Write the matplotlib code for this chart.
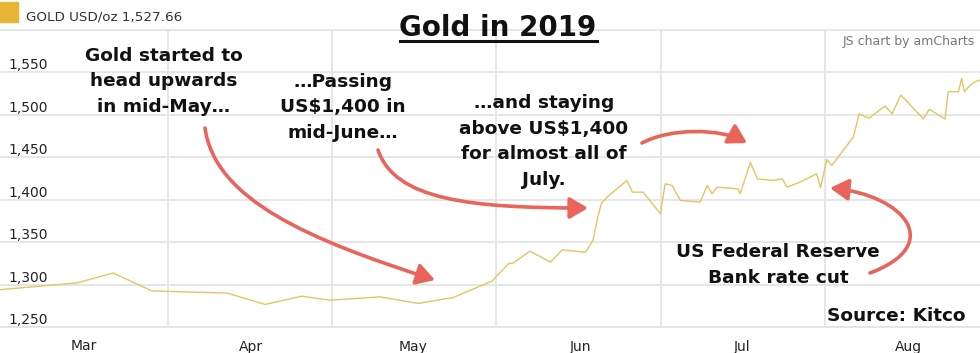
import matplotlib
matplotlib.use('Agg')
import matplotlib.pyplot as plt
import matplotlib.transforms as mtransforms
from matplotlib.patches import FancyArrowPatch, Rectangle
from matplotlib.path import Path
from matplotlib.lines import Line2D

# gold price, x = day of year 2019 (Jan 1 = 0)
days = [43.4, 57.7, 64.4, 71.6, 85.5, 92.6, 99.4, 104.6, 113.9, 121.0,
        127.5, 134.7, 137.7, 138.6, 141.7, 145.5, 147.7, 152.0, 153.4, 154.3,
        155.0, 156.0, 159.7, 160.7, 162.7, 165.9, 166.8, 168.1, 169.6, 173.3,
        174.6, 175.5, 176.4, 180.3, 180.7, 182.6, 183.9, 186.8, 188.5, 189.4,
        191.8, 194.9, 195.6, 196.8, 197.7, 201.7, 202.8, 204.6, 207.6, 208.9,
        210.5, 214.7, 215.8, 218.7, 219.3, 221.2, 221.8, 222.3, 223.4, 224.3,
        225.2]
price = [1294, 1302, 1313.6, 1292.5, 1290, 1276.6, 1286.3, 1281.6, 1285.5, 1277.8,
         1284.8, 1304.2, 1324.6, 1325.3, 1339.4, 1326.5, 1341, 1338, 1352, 1380,
         1396, 1403, 1422.7, 1408.9, 1408.9, 1383.6, 1418.8, 1416.8, 1399.2, 1397.2,
         1416.8, 1407, 1414.8, 1412.9, 1407, 1444.1, 1424.6, 1422.7, 1424.6, 1414.8,
         1420.7, 1430.5, 1414.2, 1447.3, 1440.3, 1473.9, 1501.2, 1496.1, 1510.5, 1501.2,
         1523.4, 1495.3, 1506.7, 1495, 1527.3, 1527.3, 1543, 1527.3, 1535, 1539,
         1541]

month_days = [59, 90, 120, 151, 181, 212]
month_labels = ['Mar', 'Apr', 'May', 'Jun', 'Jul', 'Aug']
y_ticks = [1250, 1300, 1350, 1400, 1450, 1500, 1550]
y_tick_labels = ['1,250', '1,300', '1,350', '1,400', '1,450', '1,500', '1,550']

W, H = 980, 353
grid_col = '#e4e4e4'
line_col = '#e3c562'
arrow_col = '#e9655b'

fig = plt.figure(figsize=(W / 100, H / 100), dpi=100)
ax = fig.add_axes([0, 26 / H, 1, 297 / H])
ax.plot(days, price, color=line_col, lw=1.0, zorder=3)
ax.set_xlim(43.4, 225.2)
ax.set_ylim(1250, 1600)

# grid: horizontal at the y ticks, vertical half way between month labels
ax.set_yticks(y_ticks)
ax.set_yticklabels(y_tick_labels)
ax.set_xticks(month_days)
ax.set_xticklabels(month_labels)
mids = [(a + b) / 2 for a, b in zip(month_days[:-1], month_days[1:])]
ax.set_xticks(mids, minor=True)
ax.grid(axis='y', which='major', color=grid_col, lw=1.3)
ax.grid(axis='x', which='minor', color=grid_col, lw=1.3)
ax.set_axisbelow(True)
for s in ['left', 'right']:
    ax.spines[s].set_visible(False)
for s in ['top', 'bottom']:
    ax.spines[s].set_color(grid_col)
    ax.spines[s].set_linewidth(1.3)
ax.tick_params(axis='both', which='both', length=0, labelsize=10, colors='#222222')
ax.tick_params(axis='x', pad=9)
ax.tick_params(axis='y', pad=-6)
for lab in ax.get_yticklabels():
    lab.set_horizontalalignment('left')
    lab.set_verticalalignment('bottom')

# helper transform: image pixels (origin top-left)
pix = mtransforms.Affine2D().scale(1 / W, -1 / H).translate(0, 1) + fig.transFigure

# legend box at the top left
fig.patches.append(Rectangle((-1, 2), 19, 20, transform=pix, color='#e8b634'))
fig.text(26, 21, 'GOLD USD/oz 1,527.66', transform=pix, fontsize=9.7,
         color='#333333', va='baseline', ha='left')
fig.text(975, 45, 'JS chart by amCharts', transform=pix, fontsize=9,
         color='#777777', va='baseline', ha='right')

# title with underline
fig.text(498, 36, 'Gold in 2019', transform=pix, fontsize=20, fontweight='bold',
         color='#111111', ha='center', va='baseline')
fig.lines.append(Line2D([400, 597], [41, 41], transform=pix, color='#111111', lw=2.2))

# multi-line notes, y is the baseline of the last line
bold = dict(transform=pix, fontsize=13.3, fontweight='bold', color='#111111',
            ha='center', va='baseline', linespacing=1.55)
fig.text(164, 112, 'Gold started to\nhead upwards\nin mid-May…', **bold)
fig.text(343, 138, '…Passing\nUS$1,400 in\nmid-June…', **bold)
fig.text(544, 185, '…and staying\nabove US$1,400\nfor almost all of\nJuly.', **bold)
fig.text(778, 283, 'US Federal Reserve\nBank rate cut', **bold)
fig.text(896, 321, 'Source: Kitco', **bold)

# curved arrows, cubic bezier in pixel space
arrows = [
    [(205, 128), (215, 200), (310, 240), (435, 280)],
    [(378, 150), (395, 200), (470, 208), (588, 208)],
    [(642, 143), (670, 128), (720, 128), (747, 143)],
    [(870, 273), (945, 245), (905, 195), (830, 188)],
]
codes = [Path.MOVETO, Path.CURVE4, Path.CURVE4, Path.CURVE4]
for pts in arrows:
    arr = FancyArrowPatch(path=Path(pts, codes), transform=pix,
                          arrowstyle='-|>,head_length=11,head_width=6.5',
                          color=arrow_col, lw=2.6)
    fig.patches.append(arr)

fig.savefig('out.png', dpi=100)
